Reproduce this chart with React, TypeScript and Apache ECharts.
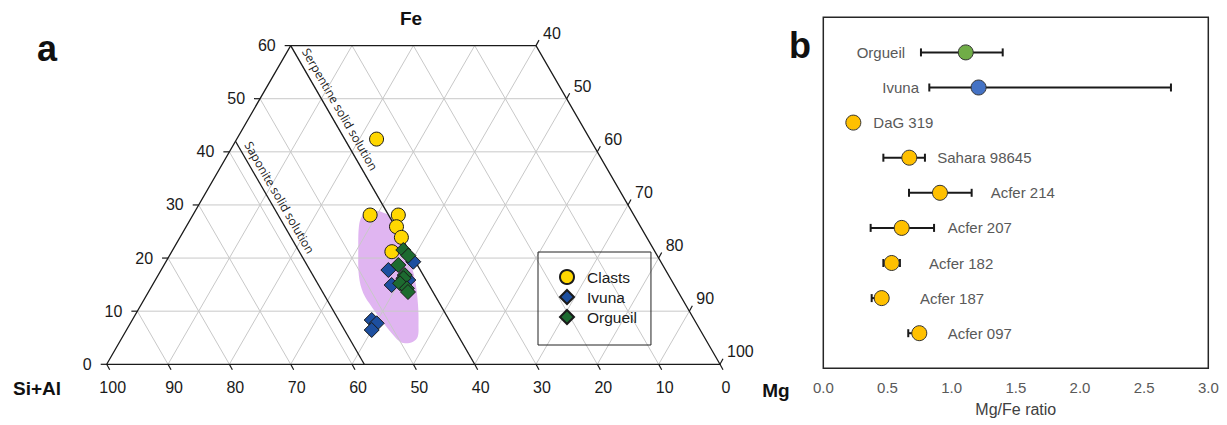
import React, { useEffect, useRef } from 'react';
import * as echarts from 'echarts';

// ---------- (a) ternary diagram data: [Si+Al, Mg, Fe] ----------
const CLASTS = [
  [34.8, 22.8, 42.4],
  [43.0, 28.9, 28.1],
  [38.4, 33.5, 28.1],
  [39.8, 34.3, 25.9],
  [40.0, 36.1, 23.9],
  [42.9, 35.9, 21.2],
];
const IVUNA = [
  [45.2, 37.05, 17.75],
  [40.35, 40.34, 19.31],
  [46.07, 39.0, 14.93],
  [42.89, 41.24, 15.87],
  [52.62, 39.04, 8.34],
  [52.12, 40.16, 7.72],
  [53.56, 39.98, 6.46],
];
const ORGUEIL = [
  [40.88, 37.6, 21.52],
  [40.58, 38.94, 20.48],
  [43.1, 38.2, 18.7],
  [43.0, 40.2, 16.8],
  [43.5, 40.3, 16.2],
  [44.55, 40.2, 15.25],
  [43.9, 41.8, 14.3],
  [44.07, 42.32, 13.61],
];
// shaded compositional field
const FIELD = [
  [44.53, 27.68, 27.79], [42.98, 28.29, 28.73], [41.53, 29.57, 28.9], [40.55, 30.97, 28.48],
  [39.85, 32.23, 27.92], [39.81, 34.15, 26.04], [40.15, 36.45, 23.4], [40.7, 39.29, 20.01],
  [41.79, 42.34, 15.87], [43.66, 45.18, 11.16], [45.46, 47.14, 7.4], [46.69, 48.11, 5.2],
  [47.92, 47.82, 4.26], [49.38, 46.67, 3.95], [50.14, 45.47, 4.39], [50.61, 43.55, 5.84],
  [51.06, 40.6, 8.34], [51.38, 37.78, 10.84], [51.48, 35.15, 13.37], [50.61, 32.88, 16.51],
  [48.21, 30.25, 21.54], [45.91, 28.16, 25.93],
];
const FE_TICKS = [0, 10, 20, 30, 40, 50, 60];
const SIAL_TICKS = [100, 90, 80, 70, 60, 50, 40, 30, 20, 10, 0];
const MG_TICKS = [40, 50, 60, 70, 80, 90, 100];
const GRID_STEPS = [10, 20, 30, 40, 50, 60, 70, 80, 90];
const SERPENTINE_SIAL = 40;
const SAPONITE_SIAL = 58;
const FE_MAX = 60;

// ---------- (b) Mg/Fe ratio data ----------
const METEORITES = ['Orgueil', 'Ivuna', 'DaG 319', 'Sahara 98645', 'Acfer 214', 'Acfer 207', 'Acfer 182', 'Acfer 187', 'Acfer 097'];
const RATIO = [1.11, 1.21, 0.234, 0.67, 0.909, 0.611, 0.533, 0.455, 0.748];
const RATIO_LOW = [0.761, 0.826, null, 0.468, 0.668, 0.369, 0.468, 0.377, 0.662];
const RATIO_HIGH = [1.398, 2.709, null, 0.792, 1.156, 0.863, 0.597, 0.5, 0.78];
const GROUP = ['Orgueil', 'Ivuna', 'clast', 'clast', 'clast', 'clast', 'clast', 'clast', 'clast'];

// layout (label anchors on the ratio axis)
const LABEL_X = [0.637, 0.746, 0.39, 0.888, 1.304, 0.969, 0.824, 0.753, 0.969];
const LABEL_ALIGN = ['right', 'right', 'left', 'left', 'left', 'left', 'left', 'left', 'left'];

const FONT = "'Liberation Sans', Arial, Helvetica, sans-serif";
const GROUP_COLOR: Record<string, string> = { Orgueil: '#70ad47', Ivuna: '#4472c4', clast: '#ffc000' };

function toXY(t: number[]) {
  const s = t[0] + t[1] + t[2];
  const mg = (t[1] / s) * 100;
  const fe = (t[2] / s) * 100;
  return [mg + fe / 2, fe];
}

function ternaryFrame(_params: any, api: any) {
  const P = (X: number, F: number) => api.coord([X, F]);
  const kids: any[] = [];
  const seg = (a: number[], b: number[], stroke: string, lw: number) =>
    kids.push({ type: 'line', shape: { x1: a[0], y1: a[1], x2: b[0], y2: b[1] }, style: { stroke, lineWidth: lw } });
  const txt = (p: number[], text: string, align: string, size = 16) =>
    kids.push({ type: 'text', x: p[0], y: p[1], style: { text, align, verticalAlign: 'middle', fontSize: size, fontFamily: FONT, fill: '#1a1a1a' } });
  const GRID = '#c8c8c8';
  // grid lines
  for (const f of FE_TICKS) if (f > 0 && f < FE_MAX) seg(P(f / 2, f), P(100 - f / 2, f), GRID, 1);
  for (const s of GRID_STEPS) {
    const fe = Math.min(FE_MAX, 100 - s);
    seg(P(100 - s, 0), P(100 - s - fe / 2, fe), GRID, 1);
  }
  for (const m of GRID_STEPS) {
    const fe = Math.min(FE_MAX, 100 - m);
    seg(P(m, 0), P(m + fe / 2, fe), GRID, 1);
  }
  // frame
  const corners = [P(0, 0), P(100, 0), P(100 - FE_MAX / 2, FE_MAX), P(FE_MAX / 2, FE_MAX)];
  kids.push({ type: 'polygon', shape: { points: corners }, style: { fill: 'none', stroke: '#1a1a1a', lineWidth: 1.3 } });
  // solid solution lines
  for (const s of [SERPENTINE_SIAL, SAPONITE_SIAL]) {
    const fe = Math.min(FE_MAX, 100 - s);
    seg(P(100 - s, 0), P(100 - s - fe / 2, fe), '#1a1a1a', 1.3);
  }
  // ticks + labels
  for (const f of FE_TICKS) {
    const p = P(f / 2, f);
    seg(p, [p[0] - 6, p[1]], '#1a1a1a', 1.2);
    txt([p[0] - 15, p[1]], String(f), 'right');
  }
  for (const s of SIAL_TICKS) {
    const p = P(100 - s, 0);
    seg(p, [p[0] + 3, p[1] + 5.5], '#1a1a1a', 1.2);
    txt([p[0] + 6, p[1] + 23], String(s), 'center');
  }
  for (const m of MG_TICKS) {
    const fe = 100 - m;
    const p = P(100 - fe / 2, fe);
    seg(p, [p[0] + 3, p[1] - 5.5], '#1a1a1a', 1.2);
    txt([p[0] + 7, p[1] - 12.5], String(m), 'left');
  }
  // rotated annotations
  const sFe = 48;
  const sp = P(100 - SERPENTINE_SIAL - sFe / 2, sFe);
  kids.push({ type: 'text', x: sp[0] + 12.5, y: sp[1], rotation: -Math.PI / 3,
    style: { text: 'Serpentine solid solution', align: 'center', verticalAlign: 'middle', fontSize: 12, fontFamily: "'Open Sans', sans-serif", fill: '#222' } });
  const aFe = 31.4;
  const ap = P(100 - SAPONITE_SIAL - aFe / 2, aFe);
  kids.push({ type: 'text', x: ap[0] + 11.5, y: ap[1], rotation: -Math.PI / 3,
    style: { text: 'Saponite solid solution', align: 'center', verticalAlign: 'middle', fontSize: 12, fontFamily: "'Open Sans', sans-serif", fill: '#222' } });
  return { type: 'group', children: kids };
}

function fieldRender(_params: any, api: any) {
  const pts = FIELD.map((t) => api.coord(toXY(t)));
  return { type: 'polygon', shape: { points: pts, smooth: 0.35 }, style: { fill: '#e0b5f1', stroke: 'none' } };
}

function errorBarRender(_params: any, api: any) {
  const y = api.value(2);
  const a = api.coord([api.value(0), y]);
  const b = api.coord([api.value(1), y]);
  const st = { stroke: '#1a1a1a', lineWidth: 2 };
  return {
    type: 'group',
    children: [
      { type: 'line', shape: { x1: a[0], y1: a[1], x2: b[0], y2: b[1] }, style: st },
      { type: 'line', shape: { x1: a[0], y1: a[1] - 4, x2: a[0], y2: a[1] + 4 }, style: st },
      { type: 'line', shape: { x1: b[0], y1: b[1] - 4, x2: b[0], y2: b[1] + 4 }, style: st },
    ],
  };
}

function labelRender(params: any, api: any) {
  const i = params.dataIndex;
  const p = api.coord([api.value(0), api.value(1)]);
  return { type: 'text', x: p[0], y: p[1], style: { text: METEORITES[i], align: LABEL_ALIGN[i], verticalAlign: 'middle', fontSize: 15, fontFamily: FONT, fill: '#595959' } };
}

function buildOption() {
  const errData: any[] = [];
  METEORITES.forEach((_n, i) => {
    if (RATIO_LOW[i] != null && RATIO_HIGH[i] != null) errData.push([RATIO_LOW[i], RATIO_HIGH[i], i + 1]);
  });
  return {
    animation: false,
    grid: [
      { left: 106.7, top: 45.6, width: 613.3, height: 318.7, show: false },
      { left: 823.3, top: 17.3, width: 385, height: 351, show: true, borderColor: '#262626', borderWidth: 1.5, backgroundColor: 'transparent' },
    ],
    xAxis: [
      { gridIndex: 0, type: 'value', min: 0, max: 100, show: false },
      {
        gridIndex: 1, type: 'value', min: 0, max: 3, interval: 0.5,
        axisLine: { show: false }, axisTick: { show: false }, splitLine: { show: false },
        axisLabel: { formatter: (v: number) => v.toFixed(1), fontSize: 15, color: '#595959', margin: 12, fontFamily: FONT },
        name: 'Mg/Fe ratio', nameLocation: 'middle', nameGap: 33,
        nameTextStyle: { fontSize: 16, color: '#404040', fontFamily: FONT },
      },
    ],
    yAxis: [
      { gridIndex: 0, type: 'value', min: 0, max: FE_MAX, show: false },
      { gridIndex: 1, type: 'value', min: 0, max: 10, inverse: true, show: false },
    ],
    legend: {
      data: ['Clasts', 'Ivuna', 'Orgueil'],
      orient: 'vertical', left: 538, top: 252,
      padding: [17, 14, 20, 21],
      itemWidth: 14, itemHeight: 14, itemGap: 4,
      borderColor: '#222', borderWidth: 1, selectedMode: false,
      textStyle: { fontSize: 15.5, fontFamily: FONT, color: '#1a1a1a', padding: [0, 0, 0, 8], lineHeight: 15.5 },
    },
    graphic: [
      { type: 'text', x: 47, y: 48, style: { text: 'a', fontSize: 36, fontWeight: 'bold', fontFamily: FONT, fill: '#111', align: 'center', verticalAlign: 'middle' } },
      { type: 'text', x: 800, y: 45, style: { text: 'b', fontSize: 36, fontWeight: 'bold', fontFamily: FONT, fill: '#111', align: 'center', verticalAlign: 'middle' } },
      { type: 'text', x: 411, y: 18, style: { text: 'Fe', fontSize: 19, fontWeight: 'bold', fontFamily: FONT, fill: '#111', align: 'center', verticalAlign: 'middle' } },
      { type: 'text', x: 37, y: 388, style: { text: 'Si+Al', fontSize: 19, fontWeight: 'bold', fontFamily: FONT, fill: '#111', align: 'center', verticalAlign: 'middle' } },
      { type: 'text', x: 776, y: 390, style: { text: 'Mg', fontSize: 19, fontWeight: 'bold', fontFamily: FONT, fill: '#111', align: 'center', verticalAlign: 'middle' } },
    ],
    series: [
      { type: 'custom', name: 'field', xAxisIndex: 0, yAxisIndex: 0, data: [[0, 0]], renderItem: fieldRender, silent: true, z: 1 },
      { type: 'custom', name: 'frame', xAxisIndex: 0, yAxisIndex: 0, data: [[0, 0]], renderItem: ternaryFrame, silent: true, z: 2 },
      {
        type: 'scatter', name: 'Clasts', xAxisIndex: 0, yAxisIndex: 0, symbol: 'circle', symbolSize: 14, z: 3,
        itemStyle: { color: '#ffd700', borderColor: '#1a1a1a', borderWidth: 1, opacity: 1 },
        data: CLASTS.map(toXY),
      },
      {
        type: 'scatter', name: 'Ivuna', xAxisIndex: 0, yAxisIndex: 0, symbol: 'diamond', symbolSize: 15, z: 4,
        itemStyle: { color: '#1d4f9f', borderColor: '#1a1a1a', borderWidth: 1, opacity: 1 },
        data: IVUNA.map(toXY),
      },
      {
        type: 'scatter', name: 'Orgueil', xAxisIndex: 0, yAxisIndex: 0, symbol: 'diamond', symbolSize: 15, z: 5,
        itemStyle: { color: '#1d6b30', borderColor: '#1a1a1a', borderWidth: 1, opacity: 1 },
        data: ORGUEIL.map(toXY),
      },
      { type: 'custom', name: 'errors', xAxisIndex: 1, yAxisIndex: 1, data: errData, renderItem: errorBarRender, silent: true, z: 3 },
      {
        type: 'scatter', name: 'ratio', xAxisIndex: 1, yAxisIndex: 1, symbol: 'circle', symbolSize: 15, z: 4,
        data: RATIO.map((v, i) => ({ value: [v, i + 1], itemStyle: { color: GROUP_COLOR[GROUP[i]], borderColor: '#333', borderWidth: 1, opacity: 1 } })),
      },
      { type: 'custom', name: 'labels', xAxisIndex: 1, yAxisIndex: 1, data: LABEL_X.map((x, i) => [x, i + 1]), renderItem: labelRender, silent: true, z: 5 },
    ],
  };
}

export default function App() {
  const ref = useRef<HTMLDivElement>(null);
  useEffect(() => {
    document.body.style.margin = '0';
    const chart = echarts.init(ref.current as HTMLDivElement, null, { renderer: 'svg' });
    chart.setOption(buildOption() as any);
    return () => chart.dispose();
  }, []);
  return <div ref={ref} style={{ width: 1227, height: 425 }} />;
}
